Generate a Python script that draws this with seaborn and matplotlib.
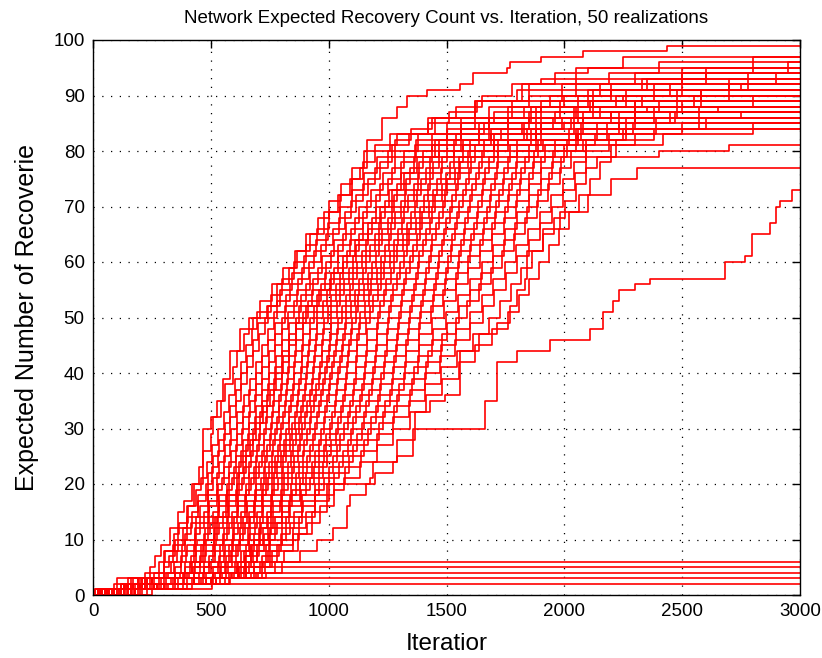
import matplotlib
matplotlib.use("Agg")
import matplotlib.pyplot as plt
import seaborn as sns
import pandas as pd

# ---------------- data (jump points of each realization) -------------
ITER_MAX = 3000
title_text = "Network Expected Recovery Count vs. Iteration, 50 realizations"
x_label = "Iteratior"
y_label = "Expected Number of Recoverie"
x_ticks = [0, 500, 1000, 1500, 2000, 2500, 3000]
y_ticks = [0, 10, 20, 30, 40, 50, 60, 70, 80, 90, 100]

run_01 = [(0,0),(60,1),(140,2),(220,4),(300,8),(360,12),(400,16),(430,20),(467,30),(500,32),(526,35),(552,39),(581,44),(624,48),(680,50),(738,52),(781,56),(830,59),(865,62),(920,65),(980,69),(1040,72),(1090,75),(1133,77),(1162,82),(1226,86),(1290,88),(1332,90),(1417,91),(1557,92),(1612,94),(1756,95),(1769,96),(1900,97),(2079,98),(2435,99)]
run_02 = [(0,0),(30,1),(90,2),(160,3),(240,5),(265,7),(290,9),(325,12),(360,15),(385,17),(420,20),(450,23),(465,26),(500,29),(510,32),(545,35),(560,38),(595,41),(610,44),(640,47),(660,50),(709,53),(758,56),(807,59),(856,62),(905,65),(954,68),(1003,71),(1052,74),(1101,77),(1150,80),(1260,83),(1420,86),(1620,89),(1850,92),(2050,95),(2250,97)]
run_03 = [(0,0),(60,1),(130,2),(258,4),(282,6),(306,8),(342,11),(366,13),(402,16),(438,19),(458,21),(482,24),(506,27),(530,30),(554,33),(578,36),(602,39),(626,42),(650,45),(674,48),(698,51),(755,54),(804,57),(853,60),(902,63),(951,66),(1000,69),(1050,72),(1100,75),(1147,78),(1196,81),(1290,83),(1450,86),(1620,89),(1820,92),(1960,94),(2100,95)]
run_04 = [(0,0),(100,1),(190,3),(278,4),(302,6),(338,9),(350,10),(398,14),(446,18),(486,22),(510,25),(534,28),(558,31),(582,34),(606,37),(630,40),(654,43),(678,46),(702,49),(744,52),(795,55),(846,58),(897,61),(948,64),(999,67),(1050,70),(1101,73),(1152,76),(1203,79),(1280,82),(1350,84),(1440,86),(1540,88),(1650,90),(1780,92),(1900,93)]
run_05 = [(0,0),(20,1),(140,2),(210,3),(300,5),(324,7),(348,9),(384,12),(420,15),(444,17),(480,20),(505,23),(530,26),(555,29),(580,32),(605,35),(630,38),(655,41),(680,44),(705,47),(730,50),(782,53),(834,56),(886,59),(938,62),(990,65),(1042,68),(1094,71),(1146,74),(1198,77),(1250,80),(1380,83),(1560,86),(1780,89),(1990,92),(2190,94),(2400,96)]
run_06 = [(0,0),(80,1),(160,2),(308,4),(332,6),(356,8),(392,11),(416,13),(452,16),(488,19),(509,21),(535,24),(561,27),(587,30),(613,33),(639,36),(665,39),(691,42),(717,45),(743,48),(769,51),(818,54),(868,57),(918,60),(968,63),(1018,66),(1068,69),(1118,72),(1168,75),(1218,78),(1268,81),(1340,83),(1420,85),(1510,87),(1630,89),(1800,91)]
run_07 = [(0,0),(40,1),(150,3),(318,4),(342,6),(378,9),(390,10),(438,14),(486,18),(528,22),(555,25),(582,28),(609,31),(636,34),(663,37),(690,40),(717,43),(744,46),(771,49),(815,52),(867,55),(919,58),(971,61),(1023,64),(1075,67),(1127,70),(1179,73),(1231,76),(1283,79),(1370,82),(1500,85),(1680,88),(1850,90),(2050,92),(2300,94)]
run_08 = [(0,0),(130,1),(200,2),(280,3),(350,5),(374,7),(398,9),(434,12),(470,15),(494,17),(530,20),(557,23),(584,26),(611,29),(638,32),(665,35),(692,38),(719,41),(746,44),(773,47),(800,50),(852,53),(904,56),(956,59),(1008,62),(1060,65),(1112,68),(1164,71),(1216,74),(1268,77),(1320,80),(1440,83),(1560,85),(1700,87),(1900,89)]
run_09 = [(0,0),(50,1),(170,2),(348,4),(372,6),(396,8),(432,11),(456,13),(492,16),(528,19),(549,21),(577,24),(605,27),(633,30),(661,33),(689,36),(717,39),(745,42),(773,45),(801,48),(829,51),(882,54),(935,57),(988,60),(1041,63),(1094,66),(1147,69),(1200,72),(1253,75),(1306,78),(1368,81),(1500,84),(1620,86),(1760,88),(1940,90),(2150,92)]
run_10 = [(0,0),(90,1),(220,3),(368,4),(392,6),(428,9),(440,10),(488,14),(536,18),(579,22),(607,25),(635,28),(663,31),(691,34),(719,37),(747,40),(775,43),(803,46),(831,49),(876,52),(930,55),(984,58),(1038,61),(1092,64),(1146,67),(1200,70),(1254,73),(1308,76),(1362,79),(1450,82),(1560,84),(1680,86),(1830,88),(2000,90)]
run_11 = [(0,0),(10,1),(130,2),(250,3),(390,5),(414,7),(438,9),(474,12),(510,15),(534,17),(570,20),(599,23),(628,26),(657,29),(686,32),(715,35),(744,38),(773,41),(802,44),(831,47),(860,50),(914,53),(968,56),(1022,59),(1076,62),(1130,65),(1184,68),(1238,71),(1292,74),(1346,77),(1400,80),(1560,83),(1760,86),(1980,89),(2200,92),(2500,95)]
run_12 = [(0,0),(150,1),(230,2),(388,4),(412,6),(436,8),(472,11),(496,13),(532,16),(568,19),(590,21),(620,24),(650,27),(680,30),(710,33),(740,36),(770,39),(800,42),(830,45),(860,48),(890,51),(952,54),(1006,57),(1060,60),(1114,63),(1168,66),(1222,69),(1276,72),(1330,75),(1384,78),(1440,81),(1540,83),(1660,85),(1850,87)]
run_13 = [(0,0),(70,1),(210,3),(408,4),(432,6),(468,9),(480,10),(528,14),(576,18),(620,22),(650,25),(680,28),(710,31),(740,34),(770,37),(800,40),(830,43),(860,46),(890,49),(937,52),(992,55),(1047,58),(1102,61),(1157,64),(1212,67),(1267,70),(1322,73),(1377,76),(1432,79),(1530,82),(1680,85),(1880,88),(2120,91),(2350,93)]
run_14 = [(0,0),(110,1),(210,2),(340,3),(430,5),(454,7),(478,9),(514,12),(550,15),(574,17),(610,20),(641,23),(672,26),(703,29),(734,32),(765,35),(796,38),(827,41),(858,44),(889,47),(920,50),(975,53),(1030,56),(1085,59),(1140,62),(1195,65),(1250,68),(1305,71),(1360,74),(1415,77),(1470,80),(1570,82),(1690,84),(1850,86),(2050,88)]
run_15 = [(0,0),(30,1),(180,2),(428,4),(452,6),(476,8),(512,11),(536,13),(572,16),(608,19),(631,21),(663,24),(695,27),(727,30),(759,33),(791,36),(823,39),(855,42),(887,45),(919,48),(951,51),(1012,54),(1066,57),(1120,60),(1174,63),(1228,66),(1282,69),(1336,72),(1390,75),(1444,78),(1500,81),(1640,84),(1760,86),(1900,88),(2060,90),(2200,91)]
run_16 = [(0,0),(160,1),(290,3),(448,4),(472,6),(508,9),(520,10),(568,14),(616,18),(661,22),(693,25),(725,28),(757,31),(789,34),(821,37),(853,40),(885,43),(917,46),(949,49),(996,52),(1050,55),(1104,58),(1158,61),(1212,64),(1266,67),(1320,70),(1374,73),(1428,76),(1482,79),(1600,82),(1730,84),(1950,86)]
run_17 = [(0,0),(60,1),(120,2),(230,3),(470,5),(494,7),(518,9),(554,12),(590,15),(614,17),(650,20),(683,23),(716,26),(749,29),(782,32),(815,35),(848,38),(881,41),(914,44),(947,47),(980,50),(1035,53),(1090,56),(1145,59),(1200,62),(1255,65),(1310,68),(1365,71),(1420,74),(1475,77),(1530,80),(1700,83),(1900,86),(2120,89),(2380,92),(2600,94)]
run_18 = [(0,0),(120,1),(200,2),(468,4),(492,6),(516,8),(552,11),(576,13),(612,16),(648,19),(671,21),(705,24),(739,27),(773,30),(807,33),(841,36),(875,39),(909,42),(943,45),(977,48),(1011,51),(1073,54),(1128,57),(1183,60),(1238,63),(1293,66),(1348,69),(1403,72),(1458,75),(1513,78),(1570,81),(1690,83),(1820,85),(1960,87),(2110,89),(2250,90)]
run_19 = [(0,0),(40,1),(240,3),(478,4),(502,6),(538,9),(550,10),(598,14),(646,18),(693,22),(728,25),(763,28),(798,31),(833,34),(868,37),(903,40),(938,43),(973,46),(1008,49),(1057,52),(1112,55),(1167,58),(1222,61),(1277,64),(1332,67),(1387,70),(1442,73),(1497,76),(1552,79),(1660,82),(1830,85),(2040,88),(2220,90),(2450,92)]
run_20 = [(0,0),(170,1),(260,2),(400,3),(510,5),(534,7),(558,9),(594,12),(630,15),(654,17),(690,20),(725,23),(760,26),(795,29),(830,32),(865,35),(900,38),(935,41),(970,44),(1005,47),(1040,50),(1095,53),(1150,56),(1205,59),(1260,62),(1315,65),(1370,68),(1425,71),(1480,74),(1535,77),(1590,80),(1700,82),(1840,84),(2000,85)]
run_21 = [(0,0),(80,1),(150,2),(508,4),(532,6),(556,8),(592,11),(616,13),(652,16),(688,19),(712,21),(748,24),(784,27),(820,30),(856,33),(892,36),(928,39),(964,42),(1000,45),(1036,48),(1072,51),(1126,54),(1180,57),(1234,60),(1288,63),(1342,66),(1396,69),(1450,72),(1504,75),(1558,78),(1620,81),(1760,83),(1900,85),(2080,87),(2300,89)]
run_22 = [(0,0),(20,1),(190,3),(518,4),(542,6),(578,9),(590,10),(638,14),(686,18),(735,22),(772,25),(809,28),(846,31),(883,34),(920,37),(957,40),(994,43),(1031,46),(1068,49),(1116,52),(1170,55),(1224,58),(1278,61),(1332,64),(1386,67),(1440,70),(1494,73),(1548,76),(1602,79),(1720,82),(1880,85),(2060,88),(2260,91),(2500,94),(2800,97)]
run_23 = [(0,0),(140,1),(270,2),(430,3),(540,5),(564,7),(588,9),(624,12),(660,15),(684,17),(720,20),(758,23),(796,26),(834,29),(872,32),(910,35),(948,38),(986,41),(1024,44),(1062,47),(1100,50),(1155,53),(1210,56),(1265,59),(1320,62),(1375,65),(1430,68),(1485,71),(1540,74),(1595,77),(1650,80),(1760,82),(1880,84),(2030,86),(2200,87)]
run_24 = [(0,0),(50,1),(210,2),(538,4),(562,6),(586,8),(622,11),(646,13),(682,16),(718,19),(743,21),(782,24),(821,27),(860,30),(899,33),(938,36),(977,39),(1016,42),(1055,45),(1094,48),(1133,51),(1189,54),(1245,57),(1301,60),(1357,63),(1413,66),(1469,69),(1525,72),(1581,75),(1637,78),(1700,81),(1860,84),(1990,86),(2150,88),(2330,90),(2500,91)]
run_25 = [(0,0),(180,1),(300,3),(548,4),(572,6),(608,9),(620,10),(668,14),(716,18),(767,22),(807,25),(847,28),(887,31),(927,34),(967,37),(1007,40),(1047,43),(1087,46),(1127,49),(1177,52),(1233,55),(1289,58),(1345,61),(1401,64),(1457,67),(1513,70),(1569,73),(1625,76),(1681,79),(1800,82),(2050,84)]
run_26 = [(0,0),(70,1),(130,2),(460,3),(565,5),(591,7),(617,9),(656,12),(695,15),(721,17),(760,20),(800,23),(840,26),(880,29),(920,32),(960,35),(1000,38),(1040,41),(1080,44),(1120,47),(1160,50),(1216,53),(1272,56),(1328,59),(1384,62),(1440,65),(1496,68),(1552,71),(1608,74),(1664,77),(1720,80),(1880,83),(2080,86),(2300,89),(2480,91),(2700,93)]
run_27 = [(0,0),(100,1),(280,2),(578,4),(602,6),(626,8),(662,11),(686,13),(722,16),(758,19),(784,21),(826,24),(868,27),(910,30),(952,33),(994,36),(1036,39),(1078,42),(1120,45),(1162,48),(1209,51),(1265,54),(1321,57),(1377,60),(1433,63),(1489,66),(1545,69),(1601,72),(1657,75),(1713,78),(1770,81),(1900,83),(2040,85),(2200,87),(2350,88)]
run_28 = [(0,0),(30,1),(230,3),(588,4),(612,6),(648,9),(660,10),(708,14),(756,18),(809,22),(853,25),(897,28),(941,31),(985,34),(1029,37),(1073,40),(1117,43),(1161,46),(1205,49),(1257,52),(1313,55),(1369,58),(1425,61),(1481,64),(1537,67),(1593,70),(1649,73),(1705,76),(1761,79),(1890,82),(2070,85),(2300,88),(2550,90)]
run_29 = [(0,0),(190,1),(320,2),(480,3),(620,5),(644,7),(668,9),(704,12),(740,15),(764,17),(800,20),(845,23),(890,26),(935,29),(980,32),(1025,35),(1070,38),(1115,41),(1160,44),(1205,47),(1250,50),(1305,53),(1360,56),(1415,59),(1470,62),(1525,65),(1580,68),(1635,71),(1690,74),(1745,77),(1800,80),(1910,82),(2060,84),(2300,86)]
run_30 = [(0,0),(60,1),(160,2),(420,3),(586,4),(614,6),(642,8),(684,11),(712,13),(754,16),(796,19),(826,21),(873,24),(920,27),(967,30),(1014,33),(1061,36),(1108,39),(1155,42),(1202,45),(1249,48),(1298,51),(1353,54),(1408,57),(1463,60),(1518,63),(1573,66),(1628,69),(1683,72),(1738,75),(1793,78),(1850,81),(2020,84),(2230,87),(2400,89),(2580,91),(2750,92)]
run_31 = [(0,0),(120,1),(250,3),(598,4),(627,6),(670,9),(685,10),(743,14),(801,18),(862,22),(910,25),(958,28),(1006,31),(1054,34),(1102,37),(1150,40),(1198,43),(1246,46),(1294,49),(1346,52),(1400,55),(1454,58),(1508,61),(1562,64),(1616,67),(1670,70),(1724,73),(1778,76),(1832,79),(1960,82),(2140,85),(2300,87),(2500,89)]
run_32 = [(0,0),(10,1),(200,2),(350,3),(615,5),(645,7),(675,9),(720,12),(765,15),(795,17),(840,20),(890,23),(940,26),(990,29),(1040,32),(1090,35),(1140,38),(1190,41),(1240,44),(1290,47),(1340,50),(1393,53),(1446,56),(1499,59),(1552,62),(1605,65),(1658,68),(1711,71),(1764,74),(1817,77),(1870,80),(2050,83),(2260,86),(2480,89),(2700,92),(2900,94)]
run_33 = [(0,0),(200,1),(340,2),(500,3),(620,4),(650,6),(680,8),(725,11),(755,13),(800,16),(845,19),(877,21),(928,24),(979,27),(1030,30),(1081,33),(1132,36),(1183,39),(1234,42),(1285,45),(1336,48),(1388,51),(1441,54),(1494,57),(1547,60),(1600,63),(1653,66),(1706,69),(1759,72),(1812,75),(1865,78),(1920,81),(2060,83),(2230,85),(2450,87)]
run_34 = [(0,0),(90,1),(170,3),(614,4),(646,6),(694,9),(710,10),(774,14),(838,18),(905,22),(958,25),(1011,28),(1064,31),(1117,34),(1170,37),(1223,40),(1276,43),(1329,46),(1382,49),(1435,52),(1487,55),(1539,58),(1591,61),(1643,64),(1695,67),(1747,70),(1799,73),(1851,76),(1903,79),(2010,82),(2180,85),(2380,88),(2580,91),(2780,94),(2950,96)]
run_35 = [(0,0),(150,1),(300,2),(430,3),(640,5),(672,7),(704,9),(752,12),(800,15),(832,17),(880,20),(936,23),(992,26),(1048,29),(1104,32),(1160,35),(1216,38),(1272,41),(1328,44),(1384,47),(1440,50),(1491,53),(1542,56),(1593,59),(1644,62),(1695,65),(1746,68),(1797,71),(1848,74),(1899,77),(1950,80),(2080,82),(2250,84),(2500,85)]
run_36 = [(0,0),(40,1),(270,2),(480,3),(628,4),(662,6),(696,8),(747,11),(781,13),(832,16),(883,19),(919,21),(977,24),(1035,27),(1093,30),(1151,33),(1209,36),(1267,39),(1325,42),(1383,45),(1441,48),(1499,51),(1549,54),(1599,57),(1649,60),(1699,63),(1749,66),(1799,69),(1849,72),(1899,75),(1949,78),(2000,81),(2130,83),(2290,85),(2470,87),(2650,88)]
run_37 = [(0,0),(210,1),(360,3),(648,4),(682,6),(733,9),(750,10),(818,14),(886,18),(960,22),(1020,25),(1080,28),(1140,31),(1200,34),(1260,37),(1320,40),(1380,43),(1440,46),(1500,49),(1552,52),(1600,55),(1648,58),(1696,61),(1744,64),(1792,67),(1840,70),(1888,73),(1936,76),(1984,79),(2090,82),(2260,84),(2600,86)]
run_38 = [(0,0),(130,1),(220,2),(450,3),(685,5),(719,7),(753,9),(804,12),(855,15),(889,17),(940,20),(1000,23),(1060,26),(1120,29),(1180,32),(1240,35),(1300,38),(1360,41),(1420,44),(1480,47),(1540,50),(1589,53),(1638,56),(1687,59),(1736,62),(1785,65),(1834,68),(1883,71),(1932,74),(1981,77),(2030,80),(2190,83),(2390,86),(2570,88),(2800,90)]
run_39 = [(0,0),(70,1),(310,2),(520,3),(672,4),(708,6),(744,8),(798,11),(834,13),(888,16),(942,19),(981,21),(1043,24),(1105,27),(1167,30),(1229,33),(1291,36),(1353,39),(1415,42),(1477,45),(1539,48),(1601,51),(1650,54),(1699,57),(1748,60),(1797,63),(1846,66),(1895,69),(1944,72),(1993,75),(2042,78),(2090,81),(2300,83),(2500,84)]
run_40 = [(0,0),(180,1),(380,3),(692,4),(728,6),(782,9),(800,10),(872,14),(944,18),(1023,22),(1087,25),(1151,28),(1215,31),(1279,34),(1343,37),(1407,40),(1471,43),(1535,46),(1599,49),(1653,52),(1702,55),(1751,58),(1800,61),(1849,64),(1898,67),(1947,70),(1996,73),(2045,76),(2094,79),(2220,82),(2380,84),(2570,86),(2750,87)]
run_41 = [(0,0),(110,1),(260,2),(500,3),(715,5),(753,7),(791,9),(848,12),(905,15),(943,17),(1000,20),(1068,23),(1136,26),(1204,29),(1272,32),(1340,35),(1408,38),(1476,41),(1544,44),(1612,47),(1680,50),(1726,53),(1772,56),(1818,59),(1864,62),(1910,65),(1956,68),(2002,71),(2048,74),(2094,77),(2140,79),(2400,80),(2700,81)]
run_42 = [(0,0),(230,1),(420,2),(580,3),(736,4),(774,6),(812,8),(869,11),(907,13),(964,16),(1021,19),(1063,21),(1133,24),(1203,27),(1273,30),(1343,33),(1413,36),(1483,39),(1553,42),(1623,45),(1693,48),(1763,51),(1806,54),(1849,57),(1892,60),(1935,63),(1978,66),(2021,69),(2064,72),(2107,75),(2150,78),(2200,81),(2420,83),(2800,85)]
run_43 = [(0,0),(20,1),(100,3),(398,4),(422,6),(458,9),(470,10),(518,14),(566,18),(609,22),(637,25),(665,28),(693,31),(721,34),(749,37),(777,40),(805,43),(833,46),(861,49),(905,52),(957,55),(1009,58),(1061,61),(1113,64),(1165,67),(1217,70),(1269,73),(1321,76),(1373,79),(1470,82),(1640,85),(1860,88),(2100,91),(2330,93),(2600,95)]
run_44 = [(0,0),(250,1),(400,2),(560,3),(700,4),(800,6),(880,8),(950,10),(1018,12),(1077,16),(1090,18),(1160,20),(1196,22),(1273,24),(1290,28),(1366,33),(1430,35),(1494,36),(1557,44),(1640,47),(1714,49),(1769,52),(1799,55),(1833,57),(1841,62),(1909,66),(1981,69),(2100,72),(2200,75),(2308,77)]
run_45 = [(0,0),(160,1),(350,2),(520,3),(650,5),(760,8),(850,11),(930,15),(993,20),(1175,21),(1190,24),(1290,25),(1358,30),(1590,30),(1663,35),(1714,42),(1799,44),(1939,46),(2079,46),(2109,48),(2163,51),(2206,53),(2230,55),(2300,56),(2363,57),(2680,60),(2766,61),(2795,65),(2872,67),(2898,70),(2915,71),(2966,73)]
run_46 = [(0,0),(60,1),(150,2),(200,3),(300,4),(420,5),(720,6)]
run_47 = [(0,0),(30,1),(120,2),(250,3),(380,4),(610,5)]
run_48 = [(0,0),(90,1),(170,2),(330,3),(510,4)]
run_49 = [(0,0),(50,1),(260,2),(505,3)]
run_50 = [(0,0),(180,1),(505,2)]

runs = [run_01, run_02, run_03, run_04, run_05, run_06, run_07, run_08, run_09, run_10,
        run_11, run_12, run_13, run_14, run_15, run_16, run_17, run_18, run_19, run_20,
        run_21, run_22, run_23, run_24, run_25, run_26, run_27, run_28, run_29, run_30,
        run_31, run_32, run_33, run_34, run_35, run_36, run_37, run_38, run_39, run_40,
        run_41, run_42, run_43, run_44, run_45, run_46, run_47, run_48, run_49, run_50]

# ---------------- build long table ----------------
rows = []
for k, pts in enumerate(runs):
    full = list(pts) + [(ITER_MAX, pts[-1][1])]
    for it, val in full:
        rows.append({"run": k, "iteration": it, "value": val})
df = pd.DataFrame(rows)

# ---------------- plot ----------------
sns.set_theme(style="white")
plt.rcParams["font.family"] = ["Liberation Sans", "DejaVu Sans"]

fig = plt.figure(figsize=(8.22, 6.58), dpi=100)
fig.patch.set_facecolor("white")
ax = fig.add_axes([93/822, 1 - 595/658, 707/822, 555/658])

sns.lineplot(data=df, x="iteration", y="value", units="run", estimator=None,
             color="#ff0000", linewidth=1.2, drawstyle="steps-post",
             legend=False, ax=ax, sort=False)

ax.set_xlim(0, ITER_MAX)
ax.set_ylim(0, 100)
ax.set_xticks(x_ticks)
ax.set_yticks(y_ticks)
ax.tick_params(direction="in", length=6, width=1, top=True, right=True,
               labelsize=13.5, colors="black", pad=6)
ax.grid(True, color="black", linestyle=(0, (1, 6)), linewidth=0.9)
for s in ax.spines.values():
    s.set_color("black")
    s.set_linewidth(1.0)
    s.set_visible(True)

ax.set_title(title_text, fontsize=13.5, color="black", pad=12)
ax.set_xlabel(x_label, fontsize=17.5, color="black", labelpad=9)
ax.set_ylabel(y_label, fontsize=18, color="black", labelpad=10)

fig.savefig("out.png", dpi=100, facecolor="white")
